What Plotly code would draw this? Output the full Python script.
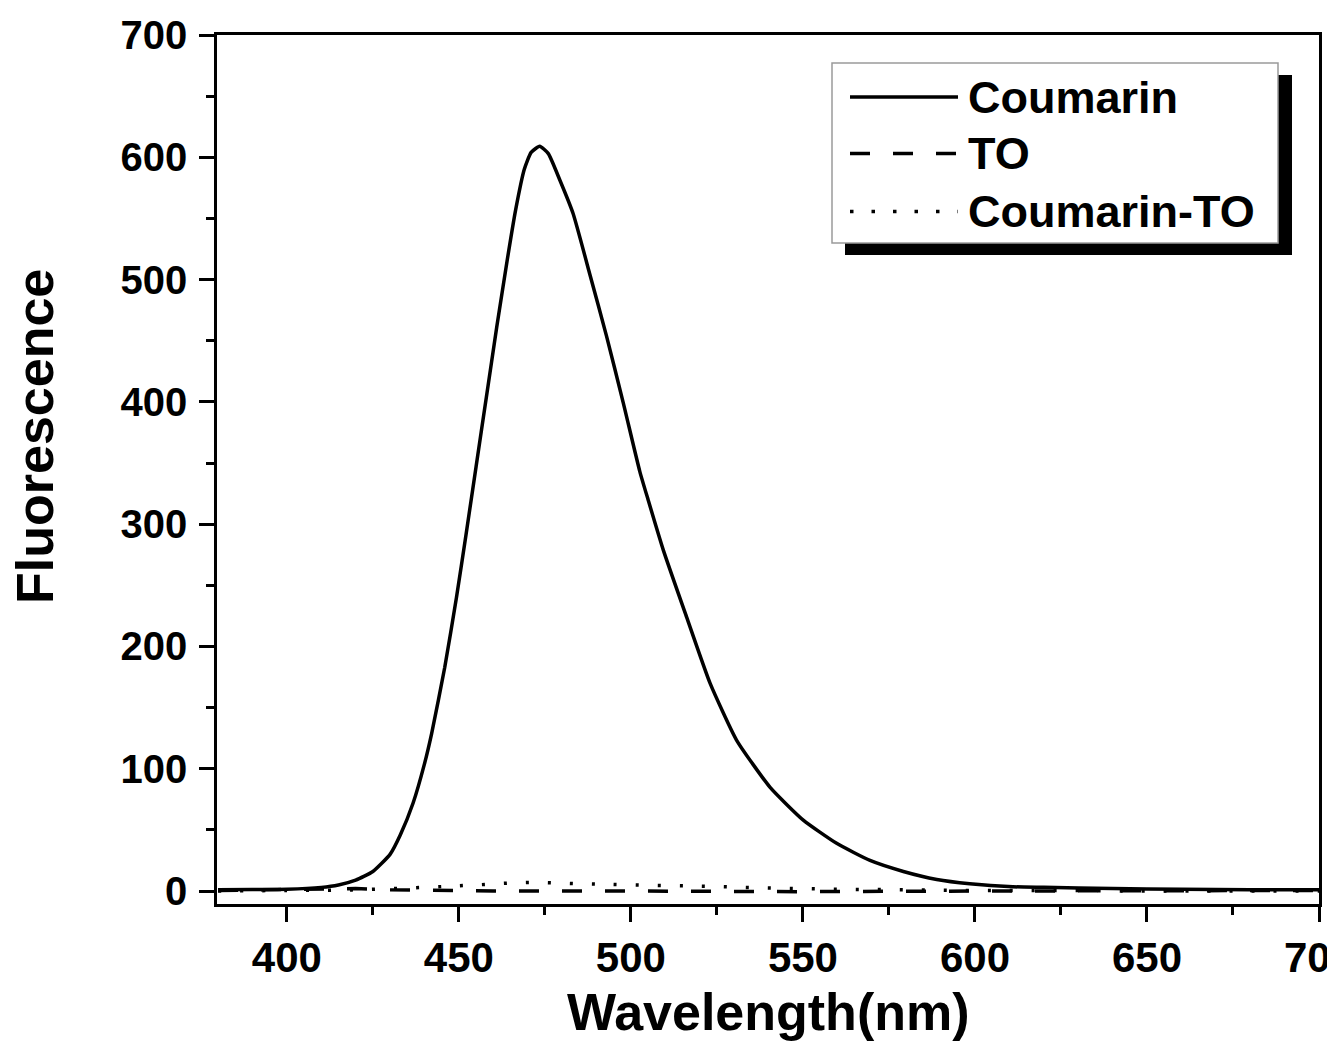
import plotly.graph_objects as go

# ---- data ----
coumarin_x = [380, 390, 400, 410, 415, 420, 425, 430, 433, 436.7, 440, 442.1, 445.9, 449.3, 452,
              455, 458, 461, 464, 466.5, 469, 471, 473.5, 476, 479.4, 483.2, 488.1,
              492.9, 497.8, 502.6, 505, 509.4, 516.2, 523, 530.7, 540.4, 550.1, 559.8, 569.5,
              579.2, 588.9, 598.5, 611, 620, 640, 660, 680, 700]
coumarin_y = [1, 1.2, 1.5, 3, 5, 9, 16, 30, 46, 72, 104, 129, 183, 240, 290,
              347, 404, 461, 515, 557, 590, 604, 609, 603, 581, 554, 504,
              454, 399, 343, 320, 279, 224, 170, 123.5, 85, 58, 39, 25,
              16, 9.5, 6, 3.5, 3, 2, 1.5, 1, 1]

to_x = [380, 400, 410, 420, 430, 440, 460, 500, 550, 600, 650, 700]
to_y = [0.5, 1, 1.5, 2, 1, 0.5, 0, 0, -0.5, 0, 0.5, 0.5]

ct_x = [380, 400, 420, 440, 455, 470, 485, 500, 520, 540, 560, 580, 600, 620, 650, 700]
ct_y = [0, 0.5, 1, 3, 5, 7, 6, 5, 4, 2.5, 1.5, 1, 0.5, 0.5, 0, 0]

series_names = ["Coumarin", "TO", "Coumarin-TO"]
x_ticks = [400, 450, 500, 550, 600, 650, 700]
y_ticks = [0, 100, 200, 300, 400, 500, 600, 700]

FONT = "Liberation Sans, Arial, sans-serif"

# ---- layout geometry (screen pixels; page body has an 8px margin) ----
OFF = 8
W, H = 1335 - OFF, 1046 - OFF
L, R, T, B = 217 - OFF, 1319 - OFF, 35 - OFF, 904 - OFF


def px_x(p):
    return (p - OFF - L) / (R - L)


def px_y(p):
    return (B - (p - OFF)) / (B - T)


fig = go.Figure()
fig.add_trace(go.Scatter(x=coumarin_x, y=coumarin_y, mode="lines", name=series_names[0],
                         line=dict(color="black", width=3.5, shape="spline", smoothing=0.5),
                         showlegend=False))
fig.add_trace(go.Scatter(x=to_x, y=to_y, mode="lines", name=series_names[1],
                         line=dict(color="black", width=3.5, dash="20px,23px"),
                         showlegend=False))
fig.add_trace(go.Scatter(x=ct_x, y=ct_y, mode="lines", name=series_names[2],
                         line=dict(color="black", width=3.5, dash="3px,19px", shape="spline"),
                         showlegend=False))

axis_common = dict(showline=True, linecolor="black", linewidth=2.5, mirror=True,
                   showgrid=False, zeroline=False, ticks="outside", ticklen=15,
                   tickwidth=2.5, tickcolor="black", ticklabeloverflow="allow",
                   automargin=False)

fig.update_xaxes(range=[379.7, 700], tickmode="array", tickvals=x_ticks,
                 ticktext=[str(v) for v in x_ticks],
                 tickfont=dict(family=FONT, size=42, color="black", weight="bold"),
                 minor=dict(ticks="outside", ticklen=8, tickwidth=2.5, tickcolor="black",
                            tickvals=[425, 475, 525, 575, 625, 675]),
                 **axis_common)
fig.update_yaxes(range=[-10.6, 700], tickmode="array", tickvals=y_ticks,
                 ticktext=[str(v) for v in y_ticks],
                 tickfont=dict(family=FONT, size=40, color="black", weight="bold"),
                 ticklabelstandoff=4,
                 minor=dict(ticks="outside", ticklen=8, tickwidth=2.5, tickcolor="black",
                            tickvals=[50, 150, 250, 350, 450, 550, 650]),
                 **axis_common)

shapes = []
annotations = []

# legend: shadow, box, samples
shapes.append(dict(type="rect", xref="paper", yref="paper",
                   x0=px_x(845), x1=px_x(1292), y0=px_y(255), y1=px_y(75),
                   fillcolor="black", line=dict(width=0), layer="above"))
shapes.append(dict(type="rect", xref="paper", yref="paper",
                   x0=px_x(832), x1=px_x(1278), y0=px_y(243), y1=px_y(63),
                   fillcolor="white", line=dict(color="#9a9a9a", width=1.5), layer="above"))
sample_y = [97, 153.5, 211.5]
sample_dash = ["solid", "20px,23px", "3.5px,18px"]
text_y = [97.5, 154, 211.7]
for name, sy, dsh, ty in zip(series_names, sample_y, sample_dash, text_y):
    shapes.append(dict(type="line", xref="paper", yref="paper",
                       x0=px_x(850), x1=px_x(958), y0=px_y(sy), y1=px_y(sy),
                       line=dict(color="black", width=3.5, dash=dsh), layer="above"))
    annotations.append(dict(text=name, xref="paper", yref="paper", x=px_x(966), y=px_y(ty),
                            xanchor="left", yanchor="middle", showarrow=False,
                            font=dict(family=FONT, size=45, color="black", weight="bold")))

# axis titles
annotations.append(dict(text="Wavelength(nm)", xref="paper", yref="paper",
                        x=px_x(768), y=px_y(1012), xanchor="center", yanchor="middle",
                        showarrow=False,
                        font=dict(family=FONT, size=52, color="black", weight="bold")))
annotations.append(dict(text="Fluorescence", xref="paper", yref="paper",
                        x=px_x(35), y=px_y(437), xanchor="center", yanchor="middle",
                        textangle=-90, showarrow=False,
                        font=dict(family=FONT, size=52, color="black", weight="bold")))

fig.update_layout(width=W, height=H,
                  margin=dict(l=L, r=W - R, t=T, b=H - B, pad=0, autoexpand=False),
                  paper_bgcolor="white", plot_bgcolor="white",
                  showlegend=False, shapes=shapes, annotations=annotations,
                  font=dict(family=FONT, color="black"))

fig.write_html("out.html")
